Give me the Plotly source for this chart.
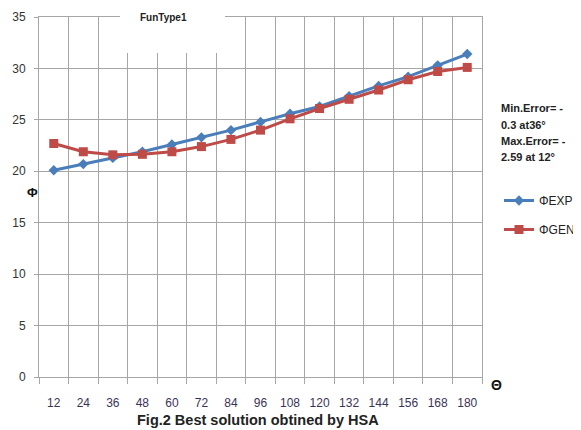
import plotly.graph_objects as go

theta = ["12", "24", "36", "48", "60", "72", "84", "96", "108", "120", "132", "144", "156", "168", "180"]
phi_exp = [20.1, 20.7, 21.3, 21.9, 22.6, 23.3, 24.0, 24.8, 25.6, 26.3, 27.3, 28.3, 29.2, 30.3, 31.4]
phi_gen = [22.7, 21.9, 21.6, 21.65, 21.9, 22.4, 23.1, 24.0, 25.1, 26.1, 27.0, 27.9, 28.9, 29.7, 30.1]
error_lines = ["Min.Error= -", "0.3 at36°", "Max.Error= -", "2.59 at 12°"]

FONT = "Liberation Sans"
OFF = 8  # page body margin
L, R, T, B = 39 - OFF, 482 - OFF, 17 - OFF, 377 - OFF
W, H = 581 - OFF, 430 - OFF

def px(x):
    return (x - OFF - L) / (R - L)

def py(y):
    return (B - (y - OFF)) / (B - T)

fig = go.Figure()
fig.add_trace(go.Scatter(
    x=theta, y=phi_exp, name="ΦEXP", mode="lines+markers",
    line=dict(color="#4a7ebb", width=3),
    marker=dict(symbol="diamond", size=8, color="#4a7ebb"),
    legendgroup="a",
))
fig.add_trace(go.Scatter(
    x=theta, y=phi_gen, name="ΦGEN", mode="lines+markers",
    line=dict(color="#be4b48", width=3),
    marker=dict(symbol="square", size=9, color="#be4b48"),
    legendgroup="b",
))

fig.update_layout(
    width=W, height=H,
    margin=dict(l=L, r=W - R, t=T, b=H - B, autoexpand=False),
    paper_bgcolor="white", plot_bgcolor="white",
    font=dict(family=FONT, size=12, color="#333333"),
    showlegend=True,
    legend=dict(x=px(499), y=py(186), xanchor="left", yanchor="top",
                traceorder="grouped", tracegroupgap=10,
                font=dict(family=FONT, size=12, color="#222222"),
                bgcolor="rgba(0,0,0,0)"),
    xaxis=dict(type="category", range=[-0.5, 14.5], tickson="boundaries",
               showgrid=True, gridcolor="#a6a6a6", gridwidth=1,
               showline=True, linecolor="#a6a6a6", mirror=True,
               ticks="outside", ticklen=6, tickcolor="#a6a6a6",
               tickangle=0, automargin=False,
               ticklabelstandoff=15,
               tickfont=dict(family=FONT, size=12, color="#3b3357"),
               zeroline=False, fixedrange=True),
    yaxis=dict(range=[0, 35], dtick=5, tick0=0,
               showgrid=True, gridcolor="#a6a6a6", gridwidth=1,
               showline=True, linecolor="#a6a6a6", mirror=True,
               ticks="outside", ticklen=4, tickcolor="#a6a6a6",
               automargin=False,
               ticklabelstandoff=6,
               tickfont=dict(family=FONT, size=12, color="#333333"),
               zeroline=False, fixedrange=True),
)

fig.add_shape(type="rect", xref="paper", yref="paper",
              x0=px(120), x1=px(225), y0=py(53), y1=py(OFF),
              fillcolor="white", line=dict(width=0), layer="above")

def note(text, x, y, size, xanchor="center", color="#222222"):
    fig.add_annotation(text=text, x=px(x), y=py(y), xref="paper", yref="paper",
                       xanchor=xanchor, yanchor="middle", align="left", showarrow=False,
                       font=dict(family=FONT, size=size, color=color))

note("<b>FunType1</b>", 163, 17, 10)
note("<b>Φ</b>", 32, 192, 13, color="#111111")
note("<b>Θ</b>", 496, 385, 14, color="#111111")
note("<b>Fig.2 Best solution obtined by HSA</b>", 258, 420, 14.5)
for i, line in enumerate(error_lines):
    note("<b>" + line + "</b>", 499, 108 + 16.5 * i, 11, xanchor="left")

fig.write_html("out.html")
